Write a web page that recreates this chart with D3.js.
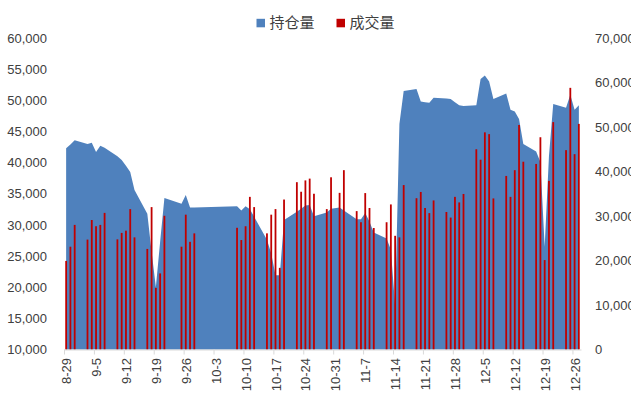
<!DOCTYPE html>
<html><head><meta charset="utf-8">
<script src="https://cdn.jsdelivr.net/npm/d3@7"></script>
<style>body{margin:0;background:#fff} svg{display:block}</style>
</head><body>
<svg id="c" width="631" height="405"></svg>
<script>
const year = 2018;
const dates = ["8-29","8-30","8-31",
"9-3","9-4","9-5","9-6","9-7",
"9-10","9-11","9-12","9-13","9-14",
"9-17","9-18","9-19","9-20","9-21",
"9-25","9-26","9-27","9-28",
"10-8","10-9","10-10","10-11","10-12",
"10-15","10-16","10-17","10-18","10-19",
"10-22","10-23","10-24","10-25","10-26",
"10-29","10-30","11-1","11-2",
"11-5","11-6","11-7","11-8","11-9",
"11-12","11-13","11-14","11-15","11-16",
"11-19","11-20","11-21","11-22","11-23",
"11-26","11-27","11-28","11-29","11-30",
"12-3","12-4","12-5","12-6","12-7",
"12-10","12-11","12-12","12-13","12-14",
"12-17","12-18","12-19","12-20","12-21",
"12-24","12-25","12-26","12-27"];
const openInterest = [42300,42900,43600,
43000,43200,41700,42700,42400,
41000,40400,39500,38500,35600,
31800,25700,20000,27300,34300,
33400,34800,32800,32800,
33000,32300,33000,32500,31300,
27600,25400,21900,21900,30800,
32100,32600,33100,33200,31400,
32000,32600,32800,32300,
30900,30900,31900,30500,28800,
27800,26000,17000,46200,51500,
51800,49800,49700,49600,50400,
50300,50200,49700,49200,49100,
49200,53400,54000,53000,50200,
51100,48500,48200,47000,43000,
41800,40100,26500,41000,49400,
48800,50900,48500,49200];
const volume = [19900,23100,28000,
24700,29100,27700,28000,30700,
24750,26200,26700,31550,25200,
22600,32000,13850,17100,30050,
23100,30300,24200,26100,
27350,24600,27700,34300,32000,
26100,30300,31550,18350,33700,
37600,35450,38000,38400,35000,
31550,38700,35200,40300,
31100,28600,35150,31800,27300,
28600,32600,25550,25200,36950,
34000,35400,31800,30650,33500,
30900,29650,34300,33050,34950,
45000,42650,48800,48400,33950,
39000,34300,40300,50450,42200,
41700,47700,20100,37900,51100,
44800,58800,43900,50700];
const tickLabels = ["8-29","9-5","9-12","9-19","9-26","10-3","10-10","10-17","10-24","10-31","11-7","11-14","11-21","11-28","12-5","12-12","12-19","12-26"];
const leftTicks = [10000,15000,20000,25000,30000,35000,40000,45000,50000,55000,60000];
const rightTicks = [0,10000,20000,30000,40000,50000,60000,70000];
const seriesNames = ["持仓量","成交量"];
const colors = ["#4F81BD","#C00000"];

const toDate = s => { const [m,d] = s.split("-").map(Number); return new Date(year, m-1, d); };
const mid = dt => d3.timeHour.offset(dt, 12);

const data = dates.map((s,i) => ({date: toDate(s), oi: openInterest[i], vol: volume[i]}));

const svg = d3.select("#c");
const font = "'Liberation Sans', Arial, sans-serif";
const txt = "#404040";

const x = d3.scaleTime().domain([toDate("8-29"), toDate("12-28")]).range([64, 581]);
const yL = d3.scaleLinear().domain([10000,60000]).range([349.5,38]);
const yR = d3.scaleLinear().domain([0,70000]).range([349.5,38]);

// area
const area = d3.area()
  .x(d => x(mid(d.date)))
  .y0(yL(10000))
  .y1(d => yL(d.oi));
svg.append("path").datum(data).attr("d", area).attr("fill", colors[0]);

// bars
svg.append("g").selectAll("rect").data(data.filter(d => d.vol != null)).join("rect")
  .attr("x", d => x(mid(d.date)) - 0.9)
  .attr("width", 1.8)
  .attr("y", d => yR(d.vol))
  .attr("height", d => yR(0) - yR(d.vol))
  .attr("fill", colors[1]);

// x axis
const xa = svg.append("g").attr("transform", "translate(0,349.5)")
  .call(d3.axisBottom(x).tickValues(tickLabels.map(toDate)).tickSize(5).tickSizeOuter(0)
    .tickFormat(d3.timeFormat("%-m-%-d")));
xa.select(".domain").attr("stroke", "#D9D9D9");
xa.selectAll(".tick line").attr("stroke", "#D9D9D9");
xa.selectAll(".tick text")
  .attr("transform", "rotate(-90)")
  .attr("x", -8.5).attr("y", 2.1).attr("dy", "0.35em")
  .attr("text-anchor", "end")
  .attr("fill", txt).style("font-size", "13px").style("font-family", font);

// left axis
const la = svg.append("g").attr("transform", "translate(47,0)")
  .call(d3.axisLeft(yL).tickValues(leftTicks).tickFormat(d3.format(",")).tickSize(0).tickPadding(0));
la.select(".domain").remove();
la.selectAll("text").attr("fill", txt).style("font-size", "13px").style("font-family", font);

// right axis
const ra = svg.append("g").attr("transform", "translate(595,0)")
  .call(d3.axisRight(yR).tickValues(rightTicks).tickFormat(d3.format(",")).tickSize(0).tickPadding(0));
ra.select(".domain").remove();
ra.selectAll("text").attr("fill", txt).style("font-size", "13px").style("font-family", font);

// legend
const legX = [256.5, 336.5];
seriesNames.forEach((n, i) => {
  svg.append("rect").attr("x", legX[i]).attr("y", 18.8).attr("width", 8.5).attr("height", 8.5).attr("fill", colors[i]);
  svg.append("text").attr("x", legX[i] + 13).attr("y", 28).text(n)
    .attr("fill", txt).style("font-size", "15px").style("font-family", "'Noto Sans CJK SC', sans-serif");
});
</script>
</body></html>
